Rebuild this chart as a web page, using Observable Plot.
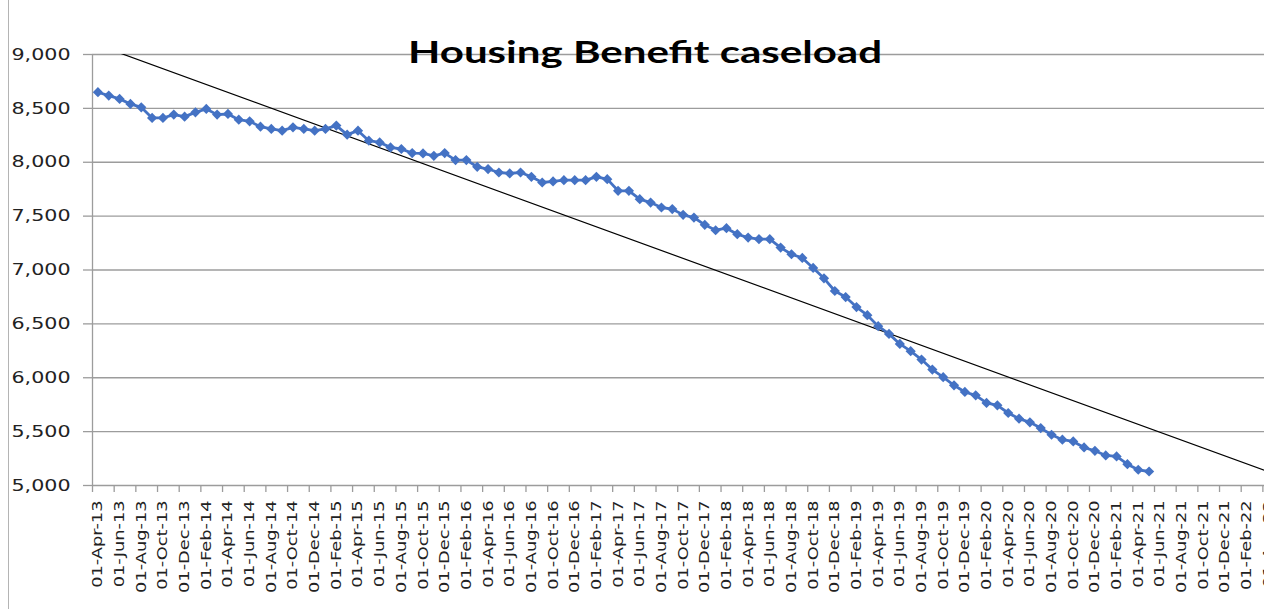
<!DOCTYPE html>
<html><head><meta charset="utf-8">
<script src="https://cdn.jsdelivr.net/npm/d3@7"></script>
<script src="https://cdn.jsdelivr.net/npm/@observablehq/plot@0.6"></script>
<style>
html,body{margin:0;padding:0;background:#fff;overflow:hidden;width:1264px;height:609px}
#wrap{position:relative;width:1264px;height:609px;overflow:hidden}
#title{position:absolute;left:408px;top:32px;font-family:Lato,sans-serif;font-weight:bold;font-size:31px;white-space:nowrap;transform-origin:0 0;color:#000}
#border{position:absolute;left:8px;top:0;width:1px;height:609px;background:#b4b4b4}
</style></head><body><div id="wrap"></div>
<script>
const title = "Housing Benefit caseload";

// Monthly caseload, 01-Apr-13 .. 01-May-21
const caseload = [
  8650, 8619, 8588, 8541, 8510, 8411, 8411, 8442, 8423, 8463,
  8495, 8442, 8448, 8395, 8380, 8330, 8309, 8293, 8324, 8309,
  8293, 8309, 8340, 8256, 8293, 8200, 8184, 8138, 8123, 8085,
  8082, 8060, 8085, 8020, 8020, 7958, 7937, 7905, 7896, 7905,
  7865, 7812, 7822, 7834, 7834, 7834, 7865, 7843, 7735, 7735,
  7657, 7626, 7580, 7565, 7512, 7487, 7419, 7369, 7388, 7332,
  7301, 7286, 7286, 7208, 7146, 7112, 7019, 6923, 6805, 6749,
  6656, 6581, 6479, 6407, 6314, 6247, 6169, 6076, 6005, 5930,
  5868, 5837, 5766, 5744, 5673, 5620, 5586, 5533, 5471, 5425,
  5409, 5353, 5322, 5279, 5270, 5198, 5146, 5130
];

const yTicks = [5000, 5500, 6000, 6500, 7000, 7500, 8000, 8500, 9000];

// x-axis labels, every second month
const xTickLabels = [
  "01-Apr-13","01-Jun-13","01-Aug-13","01-Oct-13","01-Dec-13",
  "01-Feb-14","01-Apr-14","01-Jun-14","01-Aug-14","01-Oct-14","01-Dec-14",
  "01-Feb-15","01-Apr-15","01-Jun-15","01-Aug-15","01-Oct-15","01-Dec-15",
  "01-Feb-16","01-Apr-16","01-Jun-16","01-Aug-16","01-Oct-16","01-Dec-16",
  "01-Feb-17","01-Apr-17","01-Jun-17","01-Aug-17","01-Oct-17","01-Dec-17",
  "01-Feb-18","01-Apr-18","01-Jun-18","01-Aug-18","01-Oct-18","01-Dec-18",
  "01-Feb-19","01-Apr-19","01-Jun-19","01-Aug-19","01-Oct-19","01-Dec-19",
  "01-Feb-20","01-Apr-20","01-Jun-20","01-Aug-20","01-Oct-20","01-Dec-20",
  "01-Feb-21","01-Apr-21","01-Jun-21","01-Aug-21","01-Oct-21","01-Dec-21",
  "01-Feb-22","01-Apr-22"
];

const xMax = 108.15; // months shown (axis runs past the picture edge)

const pts = caseload.map((v, k) => ({x: k + 0.5, v}));
const labelPos = xTickLabels.map((_, k) => 2 * k + 0.5);
const tickPos = xTickLabels.map((_, k) => 2 * k);

// linear trend (least squares), forecast forward
const xm = d3.mean(pts, d => d.x), vm = d3.mean(pts, d => d.v);
const slope = d3.sum(pts, d => (d.x - xm) * (d.v - vm)) / d3.sum(pts, d => (d.x - xm) ** 2);
const trend = [pts[0].x, xMax].map(x => ({x, v: vm + slope * (x - xm)}));

const grey = "#9c9c9c";
const plot = Plot.plot({
  width: 1264, height: 609,
  marginLeft: 92, marginRight: 0, marginTop: 54, marginBottom: 124,
  style: {fontFamily: "DejaVu Sans", color: "#222", background: "transparent"},
  x: {type: "linear", domain: [0, xMax]},
  y: {domain: [5000, 9000]},
  marks: [
    Plot.gridY(yTicks, {stroke: grey, strokeOpacity: 1, strokeWidth: 1.3}),
    Plot.axisY(yTicks, {tickSize: 9, tickPadding: 13, stroke: grey, strokeWidth: 1.3, fontSize: 16, tickFormat: d3.format(","), label: null}),
    Plot.ruleX([0], {stroke: grey, strokeWidth: 1.3}),
    Plot.axisX(tickPos, {tickSize: 7, tickFormat: () => "", stroke: grey, strokeWidth: 1.3, label: null}),
    Plot.axisX(labelPos, {tickSize: 0, tickPadding: 15, tickRotate: -90, fontSize: 14, tickFormat: d => xTickLabels[(d - 0.5) / 2], label: null}),
    Plot.line(trend, {x: "x", y: "v", stroke: "#000", strokeWidth: 1.2, clip: true}),
    Plot.line(pts, {x: "x", y: "v", stroke: "#4472C4", strokeWidth: 2.8}),
    Plot.dot(pts, {x: "x", y: "v", symbol: "diamond2", r: 4.6, fill: "#4472C4", stroke: "none"})
  ]
});

const wrap = document.getElementById("wrap");
wrap.appendChild(plot);
const border = document.createElement("div"); border.id = "border"; wrap.appendChild(border);
const t = document.createElement("div"); t.id = "title"; t.textContent = title; wrap.appendChild(t);
const tw = t.getBoundingClientRect().width;
t.style.transform = `scaleX(${474 / tw})`;

// widen glyphs like the reference's font
d3.select(plot).selectAll('g[aria-label="y-axis tick label"] text').each(function() {
  this.setAttribute("textLength", 59);
  this.setAttribute("lengthAdjust", "spacingAndGlyphs");
});
d3.select(plot).selectAll('g[aria-label="x-axis tick label"] text').each(function() {
  const w = this.getComputedTextLength();
  if (w > 0) {
    this.setAttribute("textLength", w * 1.27);
    this.setAttribute("lengthAdjust", "spacingAndGlyphs");
  }
});
</script>
</body></html>
